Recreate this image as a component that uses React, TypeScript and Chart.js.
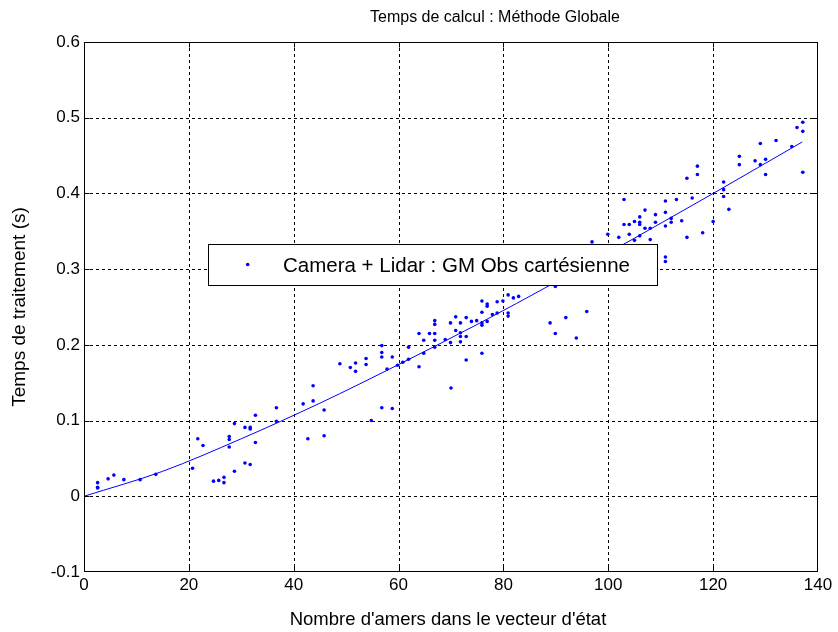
import React, { useEffect, useRef } from "react";
import { Chart, registerables } from "chart.js";

Chart.register(...registerables);

const titleText = "Temps de calcul : Méthode Globale";
const xAxisTitle = "Nombre d'amers dans le vecteur d'état";
const yAxisTitle = "Temps de traitement (s)";
const legendLabel = "Camera + Lidar : GM Obs cartésienne";

const xTicks = [0, 20, 40, 60, 80, 100, 120, 140];
const xTickLabels = ["0", "20", "40", "60", "80", "100", "120", "140"];
const yTicks = [-0.1, 0, 0.1, 0.2, 0.3, 0.4, 0.5, 0.6];
const yTickLabels = ["-0.1", "0", "0.1", "0.2", "0.3", "0.4", "0.5", "0.6"];

// Measured samples (x = number of landmarks, y = time in s)
const sampleX = [
  2.6, 2.6, 2.6, 4.6, 5.7, 7.6, 10.7, 13.7, 20.7, 21.7, 22.7, 24.7, 25.7, 26.7, 26.7,
  27.7, 27.7, 27.7, 28.7, 28.7, 30.7, 31.7, 31.7, 32.7, 32.7, 30.7, 31.7, 36.7, 36.7,
  41.8, 43.7, 43.7, 45.8, 42.7, 45.8, 48.8, 50.8, 51.8, 51.8, 53.8, 53.8, 54.8, 56.8,
  56.8, 56.8, 56.8, 57.8, 58.8, 58.8, 59.8, 60.8, 61.9, 61.9, 63.9, 63.9, 64.8, 64.8,
  65.9, 66.9, 66.9, 66.9, 66.9, 66.9, 68.9, 69.9, 69.9, 70.9, 70.9, 71.8, 71.8, 71.8,
  71.8, 72.9, 72.9, 72.9, 73.9, 74.9, 75.9, 75.9, 75.9, 75.9, 75.9, 76.9, 76.9, 76.9,
  77.9, 78.8, 78.8, 79.9, 80.9, 80.9, 80.9, 81.9, 82.9, 88.9, 89.9, 89.9, 91.9, 93.9,
  95.9, 96.9, 99.9, 102.0, 103.0, 103.0, 104.0, 104.0, 105.0, 105.0, 106.0, 106.0,
  106.0, 106.0, 107.0, 107.0, 108.0, 108.0, 109.0, 109.0, 110.9, 110.9, 110.9, 110.9,
  110.9, 112.0, 112.0, 113.0, 114.0, 115.0, 115.0, 116.0, 117.0, 117.0, 118.0, 120.0,
  122.0, 122.0, 122.0, 123.0, 125.0, 125.0, 128.0, 129.0, 129.0, 130.0, 130.0, 132.0,
  135.0, 136.0, 137.1, 137.1, 137.1, 70.0,
];
const sampleY = [
  0.018, 0.012, 0.011, 0.023, 0.028, 0.022, 0.022, 0.029, 0.037, 0.076, 0.067, 0.020,
  0.021, 0.025, 0.018, 0.079, 0.075, 0.065, 0.096, 0.033, 0.091, 0.091, 0.089, 0.107,
  0.071, 0.044, 0.042, 0.117, 0.099, 0.122, 0.146, 0.126, 0.114, 0.076, 0.080, 0.175,
  0.170, 0.176, 0.165, 0.182, 0.174, 0.100, 0.199, 0.190, 0.184, 0.117, 0.168, 0.184,
  0.116, 0.173, 0.177, 0.181, 0.197, 0.215, 0.171, 0.206, 0.189, 0.215, 0.232, 0.227,
  0.215, 0.206, 0.197, 0.207, 0.229, 0.203, 0.237, 0.219, 0.229, 0.216, 0.211, 0.204,
  0.236, 0.211, 0.180, 0.231, 0.232, 0.258, 0.243, 0.229, 0.226, 0.189, 0.254, 0.251,
  0.231, 0.240, 0.257, 0.242, 0.258, 0.266, 0.242, 0.238, 0.262, 0.264, 0.229, 0.277,
  0.215, 0.236, 0.209, 0.244, 0.336, 0.346, 0.342, 0.392, 0.359, 0.359, 0.346, 0.363,
  0.338, 0.369, 0.362, 0.359, 0.344, 0.378, 0.354, 0.354, 0.339, 0.372, 0.362, 0.390,
  0.375, 0.357, 0.316, 0.310, 0.367, 0.362, 0.392, 0.364, 0.342, 0.420, 0.394, 0.436,
  0.425, 0.348, 0.363, 0.415, 0.405, 0.396, 0.379, 0.449, 0.438, 0.443, 0.466, 0.438,
  0.445, 0.425, 0.470, 0.462, 0.487, 0.494, 0.482, 0.428, 0.143,
];

// Fitted curve
const fitX = [0, 15, 30, 45, 60, 75, 90, 105, 120, 137];
const fitY = [0.0, 0.033, 0.076, 0.123, 0.174, 0.227, 0.283, 0.341, 0.400, 0.468];

const FONT = "'Liberation Sans', Arial, Helvetica, sans-serif";
const BLUE = "#0000ff";

const decorPlugin = {
  id: "matlabDecor",
  beforeDatasetsDraw(chart: any) {
    const { ctx, chartArea: a, scales } = chart;
    const xs = scales.x;
    const ys = scales.y;
    ctx.save();
    ctx.strokeStyle = "#000";
    ctx.lineWidth = 1;
    ctx.setLineDash([3, 3]);
    for (const v of xTicks) {
      const p = Math.round(xs.getPixelForValue(v)) + 0.5;
      if (p <= a.left + 1 || p >= a.right - 1) continue;
      ctx.beginPath();
      ctx.moveTo(p, a.top);
      ctx.lineTo(p, a.bottom);
      ctx.stroke();
    }
    for (const v of yTicks) {
      const p = Math.round(ys.getPixelForValue(v)) + 0.5;
      if (p <= a.top + 1 || p >= a.bottom - 1) continue;
      ctx.beginPath();
      ctx.moveTo(a.left, p);
      ctx.lineTo(a.right, p);
      ctx.stroke();
    }
    ctx.restore();
  },
  afterDraw(chart: any) {
    const { ctx, chartArea: a, scales } = chart;
    const xs = scales.x;
    const ys = scales.y;
    ctx.save();
    // frame
    ctx.strokeStyle = "#000";
    ctx.lineWidth = 1;
    ctx.setLineDash([]);
    const l = Math.round(a.left) + 0.5;
    const r = Math.round(a.right) - 0.5;
    const t = Math.round(a.top) + 0.5;
    const b = Math.round(a.bottom) - 0.5;
    ctx.strokeRect(l, t, r - l, b - t);
    // tick marks (inward)
    for (const v of xTicks) {
      const p = Math.round(xs.getPixelForValue(v)) + 0.5;
      if (p > r) continue;
      ctx.beginPath();
      ctx.moveTo(p, b);
      ctx.lineTo(p, b - 5);
      ctx.moveTo(p, t);
      ctx.lineTo(p, t + 5);
      ctx.stroke();
    }
    for (const v of yTicks) {
      const p = Math.round(ys.getPixelForValue(v)) + 0.5;
      if (p > b) continue;
      ctx.beginPath();
      ctx.moveTo(l, p);
      ctx.lineTo(l + 5, p);
      ctx.moveTo(r, p);
      ctx.lineTo(r - 5, p);
      ctx.stroke();
    }

    // legend box
    const lx = 208.5, ly = 244.5, lw = 449, lh = 41;
    ctx.fillStyle = "#fff";
    ctx.fillRect(lx, ly, lw, lh);
    ctx.strokeStyle = "#000";
    ctx.strokeRect(lx, ly, lw, lh);
    ctx.fillStyle = BLUE;
    ctx.beginPath();
    ctx.arc(247.7, 264.5, 1.8, 0, Math.PI * 2);
    ctx.fill();
    ctx.fillStyle = "#000";
    ctx.font = `20.5px ${FONT}`;
    ctx.textAlign = "left";
    ctx.textBaseline = "middle";
    ctx.fillText(legendLabel, 283, 266);

    // titles
    const cx = (a.left + a.right) / 2;
    ctx.textAlign = "center";
    ctx.font = `16px ${FONT}`;
    ctx.fillText(titleText, 495, 18);
    ctx.font = `18.5px ${FONT}`;
    ctx.fillText(xAxisTitle, cx - 3, 620);
    ctx.font = `19px ${FONT}`;
    ctx.translate(20, (a.top + a.bottom) / 2);
    ctx.rotate(-Math.PI / 2);
    ctx.fillText(yAxisTitle, 0, 0);
    ctx.restore();
  },
};

export default function App() {
  const ref = useRef<HTMLCanvasElement | null>(null);
  useEffect(() => {
    if (!ref.current) return;
    const points = sampleX.map((x, i) => ({ x, y: sampleY[i] }));
    const fit = fitX.map((x, i) => ({ x, y: fitY[i] }));
    const chart = new Chart(ref.current, {
      type: "scatter",
      data: {
        datasets: [
          {
            label: legendLabel,
            data: points,
            showLine: false,
            pointRadius: 1.8,
            pointHoverRadius: 1.8,
            pointBorderWidth: 0,
            backgroundColor: BLUE,
            borderColor: BLUE,
          },
          {
            label: "fit",
            data: fit,
            showLine: true,
            pointRadius: 0,
            borderWidth: 1,
            borderColor: BLUE,
            backgroundColor: BLUE,
            cubicInterpolationMode: "monotone",
          },
        ],
      },
      options: {
        responsive: false,
        animation: false,
        events: [],
        layout: { padding: { left: 0, right: 20, top: 42, bottom: 0 } },
        plugins: {
          legend: { display: false },
          title: { display: false },
          tooltip: { enabled: false },
        },
        scales: {
          x: {
            type: "linear",
            min: 0,
            max: 140,
            grid: { display: false, drawTicks: false },
            border: { display: false },
            afterBuildTicks: (s: any) => {
              s.ticks = xTicks.map((v) => ({ value: v }));
            },
            afterFit: (s: any) => {
              s.height = 60;
            },
            ticks: {
              padding: 3,
              color: "#000",
              font: { family: FONT, size: 17 },
              maxRotation: 0,
              autoSkip: false,
              callback: (v: any) => {
                const i = xTicks.indexOf(Number(v));
                return i >= 0 ? xTickLabels[i] : "";
              },
            },
          },
          y: {
            type: "linear",
            min: -0.1,
            max: 0.6,
            grid: { display: false, drawTicks: false },
            border: { display: false },
            afterBuildTicks: (s: any) => {
              s.ticks = yTicks.map((v) => ({ value: v }));
            },
            afterFit: (s: any) => {
              s.width = 84;
            },
            ticks: {
              padding: 4,
              color: "#000",
              font: { family: FONT, size: 17 },
              autoSkip: false,
              callback: (v: any) => {
                const i = yTicks.findIndex((t) => Math.abs(t - Number(v)) < 1e-9);
                return i >= 0 ? yTickLabels[i] : "";
              },
            },
          },
        },
      },
      plugins: [decorPlugin],
    });
    return () => chart.destroy();
  }, []);

  return (
    <div style={{ position: "absolute", left: 0, top: 0, width: 838, height: 632, background: "#fff" }}>
      <canvas ref={ref} width={838} height={632} style={{ display: "block" }} />
    </div>
  );
}
